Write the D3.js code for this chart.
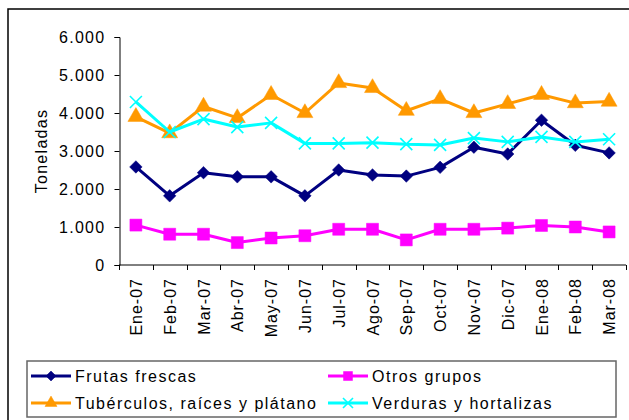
<!DOCTYPE html>
<html>
<head>
<meta charset="utf-8">
<script src="https://cdn.jsdelivr.net/npm/d3@7"></script>
<style>
    body { margin: 0; background: #fff; }
    svg text { font-family: 'Liberation Sans', Arial, sans-serif; fill: #000; }
</style>
</head>
<body>
<div id="chart"></div>
<script>
// meses y valores (toneladas)
const months = ['Ene-07', 'Feb-07', 'Mar-07', 'Abr-07', 'May-07', 'Jun-07', 'Jul-07', 'Ago-07',
    'Sep-07', 'Oct-07', 'Nov-07', 'Dic-07', 'Ene-08', 'Feb-08', 'Mar-08'];
const frutas = [2580, 1820, 2430, 2320, 2320, 1820, 2500, 2370, 2340, 2570, 3100, 2920, 3810, 3150, 2950];
const otros = [1050, 810, 810, 590, 710, 770, 940, 940, 660, 940, 940, 970, 1040, 1000, 870];
const tuberculos = [3900, 3470, 4170, 3870, 4480, 4000, 4790, 4660, 4060, 4370, 4000, 4240, 4480, 4260, 4300];
const verduras = [4290, 3500, 3840, 3630, 3740, 3200, 3200, 3220, 3180, 3160, 3340, 3240, 3370, 3240, 3310];
const yTicks = [0, 1000, 2000, 3000, 4000, 5000, 6000];

const series = [
    { name: 'Frutas frescas', values: frutas, color: '#000080', mark: 'diamond' },
    { name: 'Otros grupos', values: otros, color: '#FF00FF', mark: 'square' },
    { name: 'Tubérculos, raíces y plátano', values: tuberculos, color: '#FF9900', mark: 'triangle' },
    { name: 'Verduras y hortalizas', values: verduras, color: '#00FFFF', mark: 'x' },
];

const W = 629, H = 420;
const plot = { left: 119, right: 626, top: 37, bottom: 265 };

const svg = d3.select('#chart').append('svg').attr('width', W).attr('height', H);

// marco exterior (se sale de la ventana)
svg.append('rect')
    .attr('x', 8).attr('y', 9).attr('width', 700).attr('height', 500)
    .attr('fill', 'none').attr('stroke', '#000').attr('stroke-width', 1.5);

const x = d3.scaleBand().domain(months).range([plot.left, plot.right]);
const y = d3.scaleLinear().domain([0, 6000]).range([plot.bottom, plot.top]);

const es = d3.formatLocale({ decimal: ',', thousands: '.', grouping: [3], currency: ['', ''] });

// eje Y
const yAxis = svg.append('g')
    .attr('transform', 'translate(' + (plot.left + 0.5) + ',0)')
    .call(d3.axisLeft(y).tickValues(yTicks).tickSize(5).tickPadding(9).tickFormat(es.format(',')));
yAxis.selectAll('line,path').attr('stroke', '#000');
yAxis.selectAll('text').attr('font-size', 16).attr('letter-spacing', 1.3).attr('font-family', null);

// eje X, marcas en los bordes de cada categoria
const xg = svg.append('g');
xg.append('line')
    .attr('x1', plot.left).attr('x2', plot.right)
    .attr('y1', plot.bottom).attr('y2', plot.bottom)
    .attr('stroke', '#000');
const edges = months.map(m => x(m)).concat([plot.right]);
xg.selectAll('.xtick').data(edges).enter().append('line')
    .attr('class', 'xtick')
    .attr('x1', d => Math.round(d) + 0.5).attr('x2', d => Math.round(d) + 0.5)
    .attr('y1', plot.bottom).attr('y2', plot.bottom + 5)
    .attr('stroke', '#000');
xg.selectAll('.xlabel').data(months).enter().append('text')
    .attr('class', 'xlabel')
    .attr('transform', d => 'translate(' + (x(d) + x.bandwidth() / 2 + 6) + ',' + (plot.bottom + 13) + ') rotate(-90)')
    .attr('text-anchor', 'end')
    .attr('font-size', 16)
    .attr('letter-spacing', 1)
    .text(d => d);

// titulo del eje
svg.append('text')
    .attr('transform', 'translate(47,' + ((plot.top + plot.bottom) / 2) + ') rotate(-90)')
    .attr('text-anchor', 'middle')
    .attr('font-size', 16)
    .attr('letter-spacing', 1.3)
    .text('Toneladas');

function markerPath(type, s) {
    if (type === 'diamond') return d3.symbol(d3.symbolSquare, s * s / 2)();
    if (type === 'square') return d3.symbol(d3.symbolSquare, s * s)();
    if (type === 'triangle') return d3.symbol(d3.symbolTriangle, s * s * 0.433)();
    return d3.symbol(d3.symbolX, Math.pow(s / 2 / 0.6189, 2) + 1.7)();
}

function drawMarker(g, type, color, cx, cy, s) {
    const p = g.append('path')
        .attr('d', markerPath(type, s))
        .attr('transform', 'translate(' + cx + ',' + cy + ')' + (type === 'diamond' ? ' rotate(45)' : ''));
    if (type === 'x') {
        p.attr('fill', 'none').attr('stroke', color).attr('stroke-width', 1.6);
    } else {
        p.attr('fill', color).attr('stroke', color).attr('stroke-width', 0.5);
    }
}

const line = d3.line()
    .x((d, i) => x(months[i]) + x.bandwidth() / 2)
    .y(d => y(d));

const sizes = { diamond: 12.5, square: 12, triangle: 16, x: 12 };

series.forEach(s => {
    const g = svg.append('g');
    g.append('path')
        .attr('d', line(s.values))
        .attr('fill', 'none')
        .attr('stroke', s.color)
        .attr('stroke-width', 3)
        .attr('stroke-linejoin', 'round');
    s.values.forEach((v, i) => {
        drawMarker(g, s.mark, s.color, x(months[i]) + x.bandwidth() / 2, y(v), sizes[s.mark]);
    });
});

// leyenda
const lg = svg.append('g');
lg.append('rect')
    .attr('x', 27).attr('y', 361).attr('width', 589).attr('height', 56)
    .attr('fill', '#fff').attr('stroke', '#666').attr('stroke-width', 1.5);

const legendPos = [[31, 376], [328, 376], [31, 403], [328, 403]];
const legendSizes = { diamond: 10, square: 9, triangle: 12, x: 10 };
series.forEach((s, i) => {
    const [lx, ly] = legendPos[i];
    lg.append('line')
        .attr('x1', lx).attr('x2', lx + 40)
        .attr('y1', ly).attr('y2', ly)
        .attr('stroke', s.color).attr('stroke-width', 3);
    drawMarker(lg, s.mark, s.color, lx + 20, ly, legendSizes[s.mark]);
    lg.append('text')
        .attr('x', lx + 44).attr('y', ly).attr('dy', '0.36em')
        .attr('font-size', 16)
        .attr('letter-spacing', 1.5)
        .text(s.name);
});
</script>
</body>
</html>
